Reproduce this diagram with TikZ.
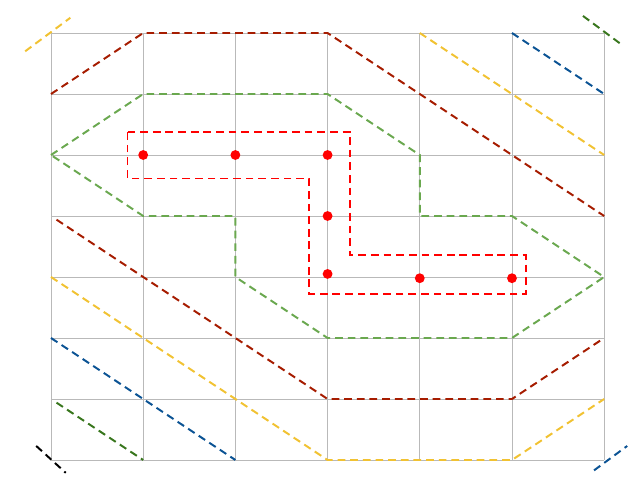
\documentclass[tikz,border=0pt]{standalone}
\usepackage{tikz}
\definecolor{darkred}{HTML}{A61C00}
\definecolor{gold}{HTML}{F1C232}
\definecolor{leafgreen}{HTML}{6AA84F}
\definecolor{forestgreen}{HTML}{38761D}
\definecolor{seablue}{HTML}{0B5394}
\tikzset{
  gridline/.style={gray!55,line width=0.6pt},
  ring/.style={line width=1.4pt,dash pattern=on 5.5pt off 3.5pt},
  site/.style={circle,fill=red,inner sep=0pt,minimum size=7pt}
}
\begin{document}
\begin{tikzpicture}[x=2.305cm,y=-1.525cm]
    \useasboundingbox (-0.553,-0.541) rectangle (6.432,7.475);
    % Grid
    \foreach \c in {0,...,6} \draw[gridline] (\c,0) -- (\c,7);
    \foreach \r in {0,...,7} \draw[gridline] (0,\r) -- (6,\r);
    % Outer rings
    \draw[ring,gold] (-0.28,0.3) -- (0.21,-0.25);
    \draw[ring,darkred] (0,1) -- (1,0) -- (3,0) -- (6,3);
    \draw[ring,gold] (4,0) -- (6,2);
    \draw[ring,seablue] (5,0) -- (6,1);
    \draw[ring,forestgreen] (5.77,-0.28) -- (6.18,0.18);
    % Middle ring
    \draw[ring,leafgreen] (0,2) -- (1,1) -- (3,1) -- (4,2) -- (4,3) -- (5,3) -- (6,4)
        -- (5,5) -- (3,5) -- (2,4) -- (2,3) -- (1,3) -- cycle;
    % Lower rings
    \draw[ring,darkred] (0.06,3.06) -- (3,6) -- (5,6) -- (6,5);
    \draw[ring,gold] (0,4) -- (3,7) -- (5,7) -- (6,6);
    \draw[ring,seablue] (0,5) -- (2,7);
    \draw[ring,forestgreen] (0.06,6.06) -- (1,7);
    \draw[ring,black] (-0.16,6.77) -- (0.16,7.21);
    \draw[ring,seablue] (5.89,7.17) -- (6.25,6.77);
    % Shape around the sites
    \draw[ring,red] (0.83,1.615) -- (3.24,1.615) -- (3.24,3.64) -- (5.15,3.64)
        -- (5.15,4.28) -- (2.80,4.28) -- (2.80,2.385) -- (0.83,2.385) -- cycle;
    % Sites
    \node[site] (s1) at (1,2) {};
    \node[site] (s2) at (2,2) {};
    \node[site] (s3) at (3,2) {};
    \node[site] (s4) at (3,3) {};
    \node[site] (s5) at (3,3.95) {};
    \node[site] (s6) at (4,4.02) {};
    \node[site] (s7) at (5,4.02) {};
\end{tikzpicture}
\end{document}
